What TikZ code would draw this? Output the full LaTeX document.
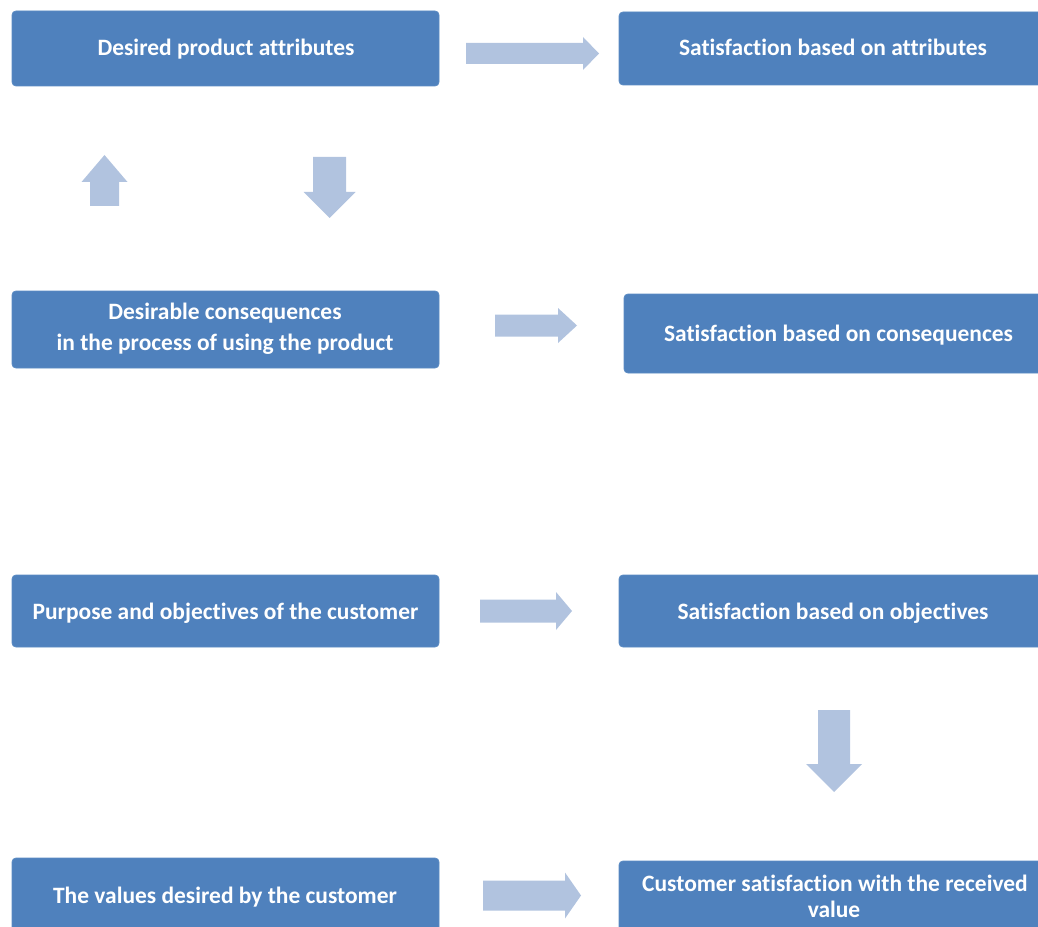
\documentclass[tikz,border=0pt]{standalone}
\usepackage{fontspec}
\setmainfont{Carlito}[Ligatures=NoCommon]
\usetikzlibrary{fit}
\definecolor{boxblue}{HTML}{4F81BD}
\definecolor{boxedge}{HTML}{5B8BC3}
\definecolor{arrowblue}{HTML}{B1C3DF}
\tikzset{
  box/.style={fill=boxblue, draw=boxedge, line width=0.6pt, rounded corners=3pt, inner sep=0pt},
  boxtext/.style={text=white, anchor=base, inner sep=0pt, font=\fontsize{17.6}{23}\selectfont\bfseries},
  blockarrow/.style={fill=arrowblue, draw=none}
}
% right arrow: x-start, x-headbase, x-tip, y-center, shaft half-height, head half-height
\newcommand{\rarr}[6]{\fill[blockarrow] (#1,#4-#5) -- (#2,#4-#5) -- (#2,#4-#6) -- (#3,#4) -- (#2,#4+#6) -- (#2,#4+#5) -- (#1,#4+#5) -- cycle;}
% vertical arrow: x-center, y-start(tail), y-headbase, y-tip, shaft half-width, head half-width
\newcommand{\varr}[6]{\fill[blockarrow] (#1-#5,#2) -- (#1-#5,#3) -- (#1-#6,#3) -- (#1,#4) -- (#1+#6,#3) -- (#1+#5,#3) -- (#1+#5,#2) -- cycle;}
\begin{document}
\begin{tikzpicture}[x=0.75pt,y=-0.75pt]
\useasboundingbox (0,0) rectangle (1038,927);
% boxes
\node[box, fit={(12,11)(439,86)}] (attr) {};
\node[box, fit={(619,12)(1045,85)}] (satattr) {};
\node[box, fit={(12,291)(439,368)}] (cons) {};
\node[box, fit={(624,294)(1045,373)}] (satcons) {};
\node[box, fit={(12,575)(439,647)}] (purp) {};
\node[box, fit={(619,575)(1045,647)}] (satobj) {};
\node[box, fit={(12,858)(439,940)}] (vals) {};
\node[box, fit={(619,861)(1045,940)}] (satval) {};
% texts
\node[boxtext] (t1) at (226,56) {Desired product attributes};
\node[boxtext] (t2) at (833,56) {Satisfaction based on attributes};
\node[boxtext] (t3a) at (225,319) {Desirable consequences};
\node[boxtext] (t3b) at (225,350) {in the process of using the product};
\node[boxtext] (t4) at (838.5,341) {Satisfaction based on consequences};
\node[boxtext] (t5) at (225.5,619) {Purpose and objectives of the customer};
\node[boxtext] (t6) at (833,619) {Satisfaction based on objectives};
\node[boxtext] (t7) at (225,903) {The values desired by the customer};
\node[boxtext] (t8a) at (835,891) {Customer satisfaction with the received};
\node[boxtext] (t8b) at (834,917) {value};
% arrows
\rarr{466}{583}{599}{53.5}{10.5}{16.5}
\varr{104.5}{206}{182}{155}{14.5}{23}
\varr{329.5}{157}{192}{218}{16.5}{26}
\rarr{495}{558}{577}{325.5}{11}{17.5}
\rarr{480}{556}{572}{611}{11.5}{19}
\varr{834}{710}{764}{792}{16}{28}
\rarr{483}{565}{581}{895.5}{15}{23}
\end{tikzpicture}
\end{document}
